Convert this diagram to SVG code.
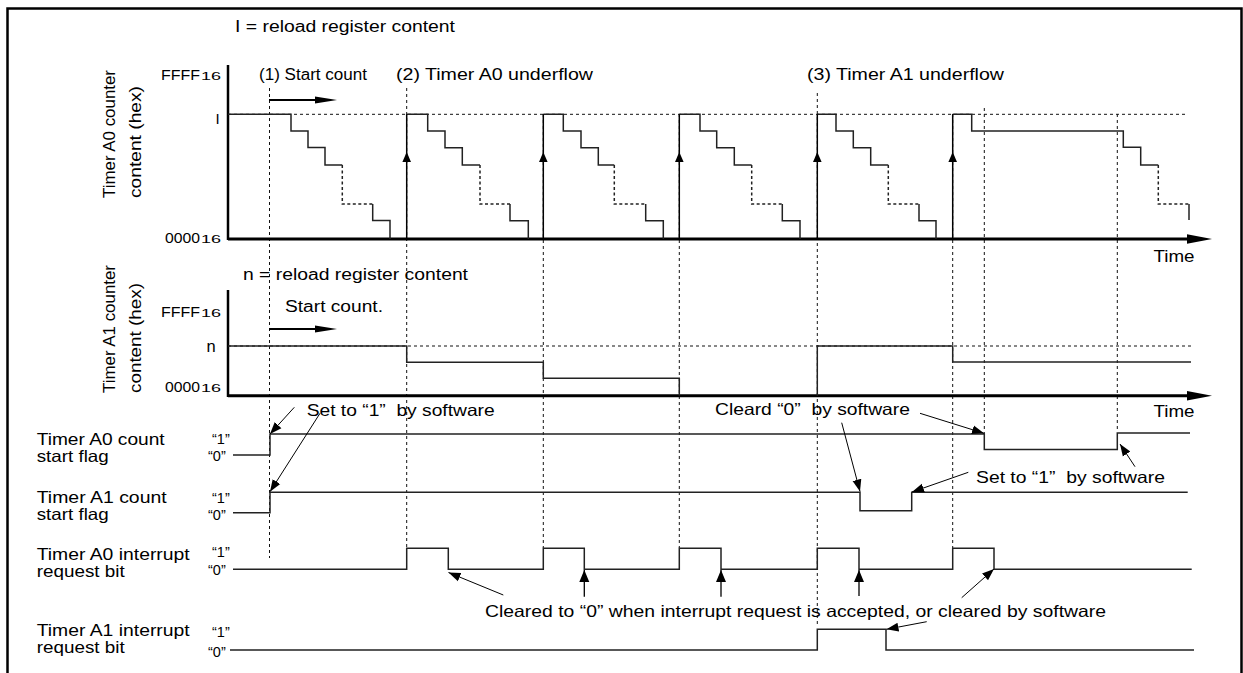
<svg xmlns="http://www.w3.org/2000/svg" width="1243" height="673" viewBox="0 0 1243 673">
<style>
text{font-family:"Liberation Sans",Arial,Helvetica,sans-serif;fill:#000;}
.t{font-size:16.5px;}
.q{font-size:14.5px;}
.s{font-size:16px;}
.ax{font-size:15px;}
.sub{font-size:10.5px;}
.rot{font-size:17px;}
.frame{fill:none;stroke:#000;stroke-width:2.5;}
.axis{fill:none;stroke:#000;stroke-width:3;}
.yaxis{fill:none;stroke:#000;stroke-width:2.5;}
.wave{fill:none;stroke:#222;stroke-width:1.5;}
.stair{fill:none;stroke:#222;stroke-width:1.5;stroke-dasharray:3,2.5;}
.guide{fill:none;stroke:#111;stroke-width:1;stroke-dasharray:3,3;}
.ann{fill:none;stroke:#000;stroke-width:1;marker-end:url(#ah);}
.up{fill:none;stroke:#000;stroke-width:1.3;marker-end:url(#ahb);}
.rise{fill:none;stroke:#000;stroke-width:1.5;}
.bold{fill:none;stroke:#000;stroke-width:2;}
.head{fill:#000;stroke:none;}
</style>
<defs>
<marker id="ah" markerUnits="userSpaceOnUse" markerWidth="13" markerHeight="10" refX="12" refY="5" orient="auto"><path d="M0,0.5 L12,5 L0,9.5 z" fill="#000"/></marker>
<marker id="ahb" markerUnits="userSpaceOnUse" markerWidth="13" markerHeight="11" refX="12" refY="5.5" orient="auto"><path d="M0,0.5 L12,5.5 L0,10.5 z" fill="#000"/></marker>
</defs>

<g id="frame"><path class="frame" d="M7.5,673 V8.5 H1241.5 V673"/></g>

<g id="guides">
<path class="guide" d="M269.5,88 V558 M406.7,88 V548 M543.3,114 V548 M679.3,114 V548 M817.3,93 V626 M952.7,114 V548 M984.3,108 V434 M1117.3,114 V432"/>
<path class="guide" d="M228,114.3 H1188 M228,346 H1192"/>
</g>

<g id="timer-a0-chart">
<path class="yaxis" d="M228,65 V240"/>
<path class="axis" d="M228,239 H1190"/>
<polygon class="head" points="1187,234.3 1212,239 1187,243.7"/>
<path class="bold" d="M269,100 H316"/>
<polygon class="head" points="315,96.5 337,100 315,103.5"/>
<path class="wave" d="M228,114.3 H291 V131 H308 V147.5 H325 V165 H342.3"/>
<path class="stair" d="M342.3,165 V204 H372.7"/>
<path class="wave" d="M372.7,204 V220.5 H390 V239"/>
<path class="wave" d="M406.7,114.3 H427.7 V131 H445 V147.7 H462.3 V165 H480"/>
<path class="stair" d="M480,165 V204 H510"/>
<path class="wave" d="M510,204 V220.7 H528.3 V239"/>
<path class="wave" d="M543.3,114.3 H563.3 V131 H581 V147.7 H598.3 V165 H614.3"/>
<path class="stair" d="M614.3,165 V204 H645.7"/>
<path class="wave" d="M645.7,204 V220.7 H663.3 V239"/>
<path class="wave" d="M679.3,114.3 H700 V131 H716.7 V147.7 H734.3 V165 H751.7"/>
<path class="stair" d="M751.7,165 V204 H782.3"/>
<path class="wave" d="M782.3,204 V220.7 H800 V239"/>
<path class="wave" d="M817.3,114.3 H836 V131 H853.3 V147.7 H870.7 V165 H888.3"/>
<path class="stair" d="M888.3,165 V204 H919"/>
<path class="wave" d="M919,204 V220.7 H936 V239"/>
<path class="wave" d="M952.7,114.3 H971.7 V131 H1123.3 V147.3 H1140.7 V165 H1158.3"/>
<path class="stair" d="M1158.3,165 V204 H1189"/>
<path class="wave" d="M1189,204 V220"/>
<path class="rise" d="M406.7,239 V114.3 M543.3,239 V114.3 M679.3,239 V114.3 M817.3,239 V114.3 M952.7,239 V114.3"/>
<polygon class="head" points="402.4,162 406.7,152 411,162"/>
<polygon class="head" points="539,162 543.3,152 547.6,162"/>
<polygon class="head" points="675,162 679.3,152 683.6,162"/>
<polygon class="head" points="813,162 817.3,152 821.6,162"/>
<polygon class="head" points="948.4,162 952.7,152 957,162"/>
<text class="s" x="235" y="31.5" textLength="220" lengthAdjust="spacingAndGlyphs">I = reload register content</text>
<text class="ax" x="161" y="80" textLength="39" lengthAdjust="spacingAndGlyphs">FFFF</text>
<text class="sub" x="201" y="80" textLength="20" lengthAdjust="spacingAndGlyphs">16</text>
<text class="s" x="259" y="80" textLength="108" lengthAdjust="spacingAndGlyphs">(1) Start count</text>
<text class="s" x="396" y="80" textLength="197" lengthAdjust="spacingAndGlyphs">(2) Timer A0 underflow</text>
<text class="s" x="807" y="80" textLength="197" lengthAdjust="spacingAndGlyphs">(3) Timer A1 underflow</text>
<text class="ax" x="215.5" y="123.5">I</text>
<text class="ax" x="165" y="243" textLength="35" lengthAdjust="spacingAndGlyphs">0000</text>
<text class="sub" x="201" y="243" textLength="20" lengthAdjust="spacingAndGlyphs">16</text>
<text class="s" x="1153.5" y="262" textLength="41" lengthAdjust="spacingAndGlyphs">Time</text>
<text class="rot" transform="translate(115,198) rotate(-90)" textLength="128" lengthAdjust="spacingAndGlyphs">Timer A0 counter</text>
<text class="rot" transform="translate(141,198) rotate(-90)" textLength="112" lengthAdjust="spacingAndGlyphs">content (hex)</text>
</g>

<g id="timer-a1-chart">
<path class="yaxis" d="M228,290 V397"/>
<path class="axis" d="M228,395.7 H1190"/>
<polygon class="head" points="1187,391 1212,395.7 1187,400.4"/>
<path class="bold" d="M269,329 H316"/>
<polygon class="head" points="315,325.5 337,329 315,332.5"/>
<path class="wave" d="M228,346 H406.7 V362.3 H543.3 V378.3 H679.3 V395.7 M817.3,395.7 V346 H952.7 V362 H1191"/>
<text class="s" x="243" y="280" textLength="225" lengthAdjust="spacingAndGlyphs">n = reload register content</text>
<text class="ax" x="161" y="316.7" textLength="39" lengthAdjust="spacingAndGlyphs">FFFF</text>
<text class="sub" x="201" y="316.7" textLength="20" lengthAdjust="spacingAndGlyphs">16</text>
<text class="s" x="285" y="312" textLength="98" lengthAdjust="spacingAndGlyphs">Start count.</text>
<text class="t" x="206.5" y="351.5">n</text>
<text class="ax" x="165" y="391.7" textLength="35" lengthAdjust="spacingAndGlyphs">0000</text>
<text class="sub" x="201" y="391.7" textLength="20" lengthAdjust="spacingAndGlyphs">16</text>
<text class="s" x="1153.5" y="416.5" textLength="41" lengthAdjust="spacingAndGlyphs">Time</text>
<text class="rot" transform="translate(115,393) rotate(-90)" textLength="128" lengthAdjust="spacingAndGlyphs">Timer A1 counter</text>
<text class="rot" transform="translate(141,393) rotate(-90)" textLength="110" lengthAdjust="spacingAndGlyphs">content (hex)</text>
</g>

<g id="a0-start-flag">
<path class="wave" d="M233,455 H270 V434 H984.3 V449.5 H1117.3 V433 H1190"/>
<text class="t" x="36.7" y="445" textLength="128" lengthAdjust="spacingAndGlyphs">Timer A0 count</text>
<text class="t" x="36.7" y="461.5" textLength="72" lengthAdjust="spacingAndGlyphs">start flag</text>
<text class="q" x="212" y="444">“1”</text>
<text class="q" x="208" y="460.5">“0”</text>
</g>

<g id="a1-start-flag">
<path class="wave" d="M233,512.7 H270 V492.3 H860 V510.7 H911.7 V492.3 H1187.7"/>
<text class="t" x="36.7" y="503" textLength="130" lengthAdjust="spacingAndGlyphs">Timer A1 count</text>
<text class="t" x="36.7" y="519.5" textLength="72" lengthAdjust="spacingAndGlyphs">start flag</text>
<text class="q" x="212" y="503">“1”</text>
<text class="q" x="208" y="520">“0”</text>
</g>

<g id="a0-interrupt">
<path class="wave" d="M233,569.3 H406.7 V548.3 H448.3 V569.3 H543.3 V548.3 H584.3 V569.3 H679.3 V548.3 H721 V569.3 H817.3 V548.3 H859 V569.3 H952.7 V548.3 H994 V569.3 H1191.7"/>
<text class="t" x="36.7" y="560" textLength="153" lengthAdjust="spacingAndGlyphs">Timer A0 interrupt</text>
<text class="t" x="36.7" y="577" textLength="88" lengthAdjust="spacingAndGlyphs">request bit</text>
<text class="q" x="212" y="557">“1”</text>
<text class="q" x="208" y="575">“0”</text>
</g>

<g id="a1-interrupt">
<path class="wave" d="M230,650 H817.3 V629.3 H886 V650 H1194"/>
<text class="t" x="36.7" y="636" textLength="153" lengthAdjust="spacingAndGlyphs">Timer A1 interrupt</text>
<text class="t" x="36.7" y="652.5" textLength="88" lengthAdjust="spacingAndGlyphs">request bit</text>
<text class="q" x="212" y="636.5">“1”</text>
<text class="q" x="208" y="656.5">“0”</text>
</g>

<g id="annotations">
<text class="t" x="306.7" y="416" xml:space="preserve" textLength="188" lengthAdjust="spacingAndGlyphs">Set to “1”  by software</text>
<text class="t" x="715" y="415" xml:space="preserve" textLength="195" lengthAdjust="spacingAndGlyphs">Cleard “0”  by software</text>
<text class="t" x="976" y="483.3" xml:space="preserve" textLength="189" lengthAdjust="spacingAndGlyphs">Set to “1”  by software</text>
<text class="t" x="485" y="616.5" textLength="621" lengthAdjust="spacingAndGlyphs">Cleared to “0” when interrupt request is accepted, or cleared by software</text>
</g>

<g id="connectors">
<path class="ann" d="M294.3,407.3 L270,434"/>
<path class="ann" d="M320,413.3 L270,491.7"/>
<path class="ann" d="M920,413.3 L984,433.3"/>
<path class="ann" d="M841.7,422.7 L860,491.5"/>
<path class="ann" d="M968.3,472.3 L912,492"/>
<path class="ann" d="M1135,466.7 L1120,444"/>
<path class="ann" d="M503.3,595 L448.5,572.5"/>
<path class="up" d="M584.3,596.7 V570"/>
<path class="up" d="M721,596.7 V570"/>
<path class="up" d="M859,596 V570"/>
<path class="ann" d="M961.7,597.7 L994,569"/>
<path class="ann" d="M926.7,621.7 L886.5,629.3"/>
</g>
</svg>
